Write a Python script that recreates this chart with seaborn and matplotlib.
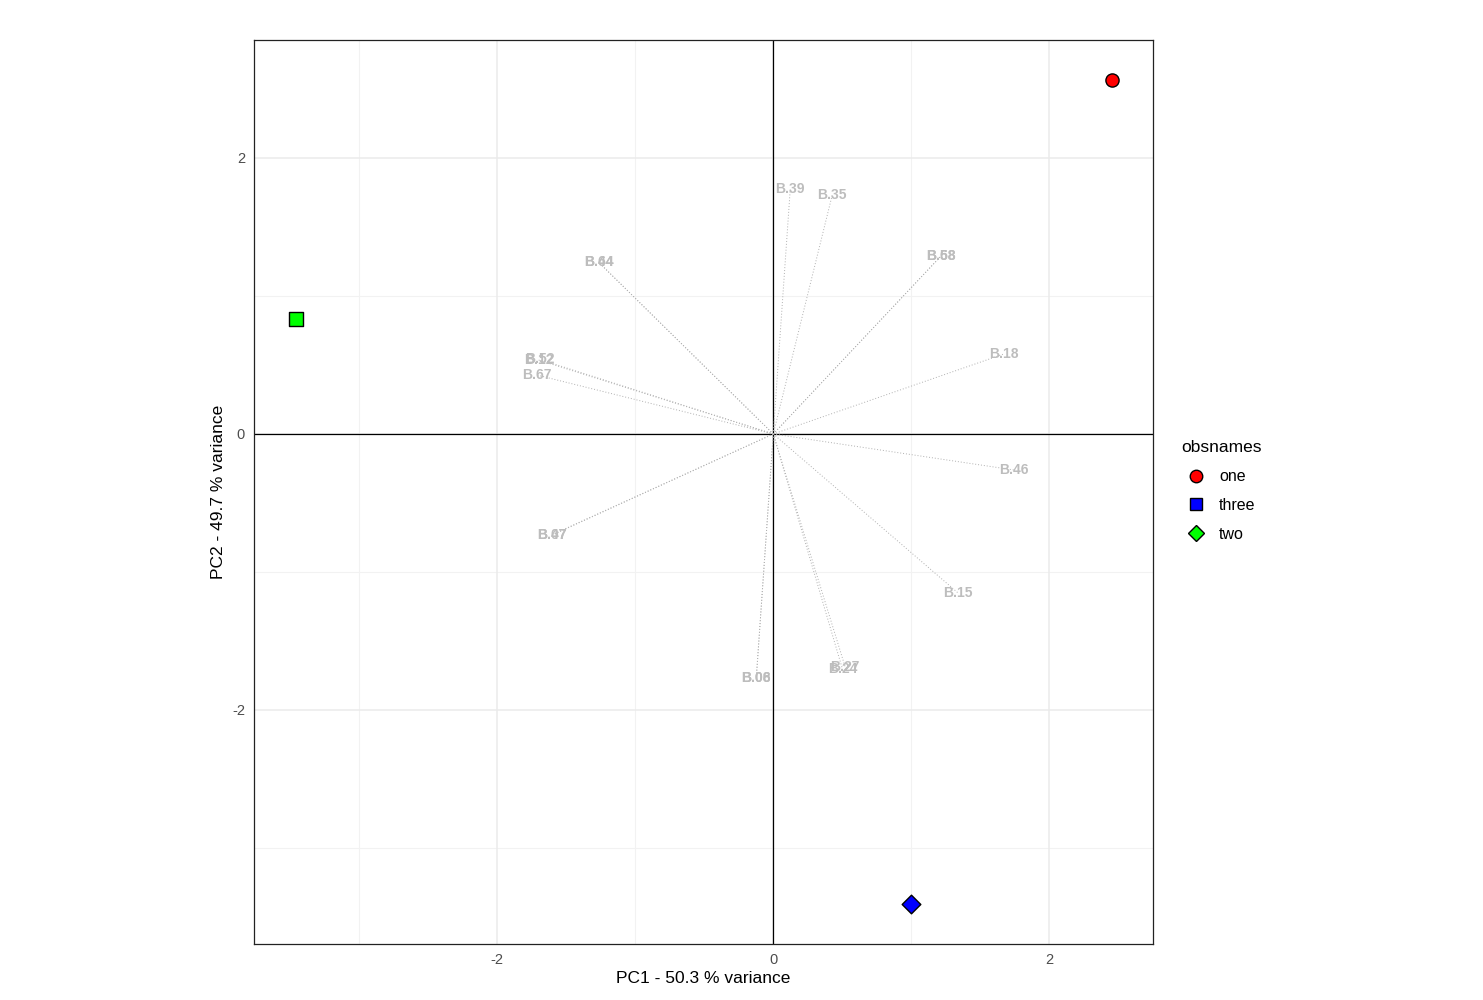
import matplotlib
matplotlib.use("Agg")
import matplotlib.pyplot as plt
from matplotlib.lines import Line2D
import seaborn as sns
import pandas as pd

# observation scores
obs_names = ["one", "three", "two"]
obs_pc1 = [2.452, 0.998, -3.457]
obs_pc2 = [2.565, -3.406, 0.833]

# variable loadings (label positions)
var_names = ["B.39", "B.35", "B.44", "B.64", "B.58", "B.68", "B.18", "B.12", "B.52",
             "B.67", "B.46", "B.47", "B.07", "B.15", "B.27", "B.24", "B.08", "B.06"]
var_pc1 = [0.123, 0.427, -1.266, -1.266, 1.215, 1.215, 1.671, -1.70, -1.69,
           -1.714, 1.743, -1.606, -1.606, 1.338, 0.52, 0.50, -0.123, -0.123]
var_pc2 = [1.775, 1.732, 1.246, 1.246, 1.29, 1.29, 0.58, 0.536, 0.54,
           0.428, -0.261, -0.732, -0.735, -1.152, -1.686, -1.70, -1.768, -1.768]

x_ticks = [-2, 0, 2]
y_ticks = [-2, 0, 2]

obs = pd.DataFrame({"obsnames": obs_names, "PC1": obs_pc1, "PC2": obs_pc2})
loads = pd.DataFrame({"name": var_names, "PC1": var_pc1, "PC2": var_pc2})

sns.set_style("white")
plt.rcParams["font.family"] = ["Liberation Sans", "DejaVu Sans"]
plt.rcParams["text.color"] = "black"

fig = plt.figure(figsize=(14.83, 10), dpi=100)
ax = fig.add_axes([0.1713, 0.056, 0.6062, 0.904])

ax.set_xlim(-3.76, 2.75)
ax.set_ylim(-3.696, 2.855)

# grid like theme_bw
for v in [-3, -1, 1]:
    ax.axvline(v, color="#F2F2F2", lw=0.8, zorder=0)
    ax.axhline(v, color="#F2F2F2", lw=0.8, zorder=0)
for v in x_ticks:
    ax.axvline(v, color="#EBEBEB", lw=1.1, zorder=0)
for v in y_ticks:
    ax.axhline(v, color="#EBEBEB", lw=1.1, zorder=0)
ax.axhline(0, color="black", lw=0.9, zorder=1)
ax.axvline(0, color="black", lw=0.9, zorder=1)

# loading segments
for _, r in loads.iterrows():
    ax.plot([0, r["PC1"]], [0, r["PC2"]], color="#B0B0B0", lw=0.7,
            linestyle=(0, (1, 2)), zorder=2)
for _, r in loads.iterrows():
    ax.text(r["PC1"], r["PC2"], r["name"], color="#BDBDBD", fontsize=10,
            fontweight="bold", ha="center", va="center", zorder=3)

# observations (plot markers differ from legend keys, as in the original)
plot_style = {"one": ("o", "#FF0000"), "three": ("D", "#0000FF"), "two": ("s", "#00FF00")}
for name, (mk, col) in plot_style.items():
    sub = obs[obs["obsnames"] == name]
    sns.scatterplot(data=sub, x="PC1", y="PC2", marker=mk, color=col, s=90,
                    edgecolor="black", linewidth=1.0, ax=ax, zorder=4, legend=False)

ax.set_xticks(x_ticks)
ax.set_xticklabels([str(t) for t in x_ticks])
ax.set_yticks(y_ticks)
ax.set_yticklabels([str(t) for t in y_ticks])
ax.tick_params(axis="both", labelsize=10.5, colors="#4D4D4D", length=3, width=0.8)
ax.set_xlabel("PC1 - 50.3 % variance", fontsize=12.5, color="black", labelpad=3)
ax.set_ylabel("PC2 - 49.7 % variance", fontsize=12.5, color="black", labelpad=4)
for sp in ax.spines.values():
    sp.set_visible(True)
    sp.set_color("#222222")
    sp.set_linewidth(0.9)

leg_style = {"one": ("o", "#FF0000", 9), "three": ("s", "#0000FF", 8), "two": ("D", "#00FF00", 8)}
handles = [Line2D([0], [0], marker=m, color="none", markerfacecolor=c,
                  markeredgecolor="black", markersize=s, label=n)
           for n, (m, c, s) in leg_style.items()]
leg = fig.legend(handles=handles, title="obsnames", loc="upper left",
                 bbox_to_anchor=(0.787, 0.574), frameon=False, fontsize=11.5,
                 title_fontsize=12.5, labelspacing=0.86, handletextpad=0.5,
                 handlelength=1.85)
leg._legend_box.align = "left"
leg.get_title().set_color("black")
for t in leg.get_texts():
    t.set_color("black")

fig.savefig("out.png", dpi=100)
